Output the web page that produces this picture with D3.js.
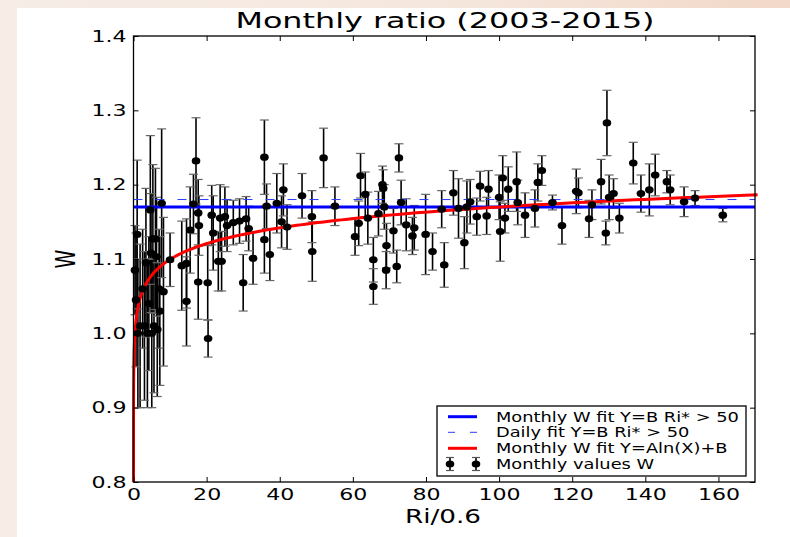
<!DOCTYPE html>
<html>
<head>
<meta charset="UTF-8">
<title>Monthly ratio</title>
<script src="https://d3js.org/d3.v7.min.js"></script>
<style>
  body { margin: 0; background: #fff; }
  svg text { font-family: "DejaVu Sans", sans-serif; fill: #000; }
</style>
</head>
<body>
<svg width="790" height="537">
  <defs>
    <linearGradient id="topband" x1="0" x2="1" y1="0" y2="0">
      <stop offset="0" stop-color="#f6ede7"/>
      <stop offset="0.6" stop-color="#f5e6dc"/>
      <stop offset="1" stop-color="#f2d8c8"/>
    </linearGradient>
  </defs>
</svg>
<script>
  // data
  let riValues = [0.4, 0.7, 1.0, 1.2, 1.8, 2.5, 3.0, 3.4, 3.8, 4.2, 4.6, 4.8, 5.0, 5.3, 5.6, 6.0, 6.3, 6.5, 7.0, 7.2,
    7.7, 8.2, 10.0, 13.2, 14.5, 14.5, 15.5, 16.4, 17.1, 17.7, 17.9, 17.7, 20.3, 20.4, 21.4, 21.8, 23.2, 24.1, 23.7, 25.0,
    25.6, 27.3, 29.0, 30.0, 30.8, 31.5, 32.7, 35.8, 35.8, 36.4, 37.3, 39.2, 40.5, 41.0, 42.0, 46.1, 48.8, 48.9, 52.0, 55.1,
    60.6, 61.6, 62.1, 63.4, 64.1, 65.6, 65.6, 67.0, 68.1, 68.3, 68.6, 69.2, 69.1, 71.1, 72.0, 72.6, 73.2, 74.6, 76.3, 76.8,
    79.9, 81.8, 84.3, 85.0, 87.5, 88.9, 90.5, 91.2, 92.1, 93.9, 94.8, 96.6, 97.1, 100.0, 100.3, 101.0, 101.6, 102.5, 104.8, 105.1,
    107.1, 109.8, 110.6, 111.7, 114.6, 117.2, 121.1, 121.7, 124.6, 125.4, 127.9, 129.2, 129.5, 130.1, 131.3, 132.9, 136.7, 138.8, 141.1, 142.7,
    145.9, 146.8, 150.6, 153.6, 161.2];
  let wValues = [1.085, 1.045, 1.133, 1.0, 1.01, 1.06, 1.01, 1.095, 1.0, 1.04, 1.166, 1.108, 1.0, 1.127, 1.01, 1.127, 1.103, 1.005, 1.06, 1.03,
    1.175, 1.056, 1.099, 1.091, 1.094, 1.043, 1.139, 1.174, 1.232, 1.162, 1.145, 1.069, 1.068, 0.993, 1.159, 1.135, 1.097, 1.097, 1.155, 1.157,
    1.145, 1.149, 1.151, 1.068, 1.154, 1.141, 1.101, 1.237, 1.126, 1.171, 1.106, 1.175, 1.15, 1.193, 1.143, 1.185, 1.157, 1.11, 1.236, 1.171,
    1.13, 1.148, 1.212, 1.187, 1.155, 1.099, 1.063, 1.161, 1.2, 1.195, 1.17, 1.118, 1.085, 1.138, 1.09, 1.236, 1.176, 1.146, 1.131, 1.142,
    1.133, 1.11, 1.167, 1.092, 1.189, 1.168, 1.122, 1.17, 1.177, 1.157, 1.198, 1.158, 1.194, 1.183, 1.137, 1.209, 1.155, 1.194, 1.204, 1.176,
    1.159, 1.168, 1.203, 1.219, 1.176, 1.145, 1.191, 1.189, 1.154, 1.173, 1.204, 1.135, 1.283, 1.183, 1.188, 1.155, 1.229, 1.188, 1.193, 1.213,
    1.204, 1.193, 1.177, 1.182, 1.159];
  let wErrors = [0.06, 0.09, 0.1, 0.1, 0.11, 0.08, 0.1, 0.1, 0.1, 0.09, 0.1, 0.08, 0.1, 0.1, 0.09, 0.095, 0.08, 0.09, 0.08, 0.1,
    0.1, 0.1, 0.036, 0.06, 0.06, 0.06, 0.058, 0.04, 0.058, 0.045, 0.04, 0.05, 0.05, 0.025, 0.04, 0.05, 0.04, 0.04, 0.045, 0.04,
    0.035, 0.03, 0.03, 0.038, 0.03, 0.03, 0.035, 0.05, 0.045, 0.03, 0.035, 0.04, 0.035, 0.035, 0.03, 0.03, 0.035, 0.04, 0.04, 0.026,
    0.025, 0.03, 0.03, 0.03, 0.035, 0.03, 0.024, 0.03, 0.025, 0.025, 0.03, 0.03, 0.025, 0.03, 0.022, 0.019, 0.03, 0.035, 0.025, 0.03,
    0.054, 0.025, 0.025, 0.03, 0.03, 0.04, 0.035, 0.035, 0.03, 0.025, 0.02, 0.025, 0.025, 0.03, 0.04, 0.03, 0.02, 0.03, 0.04, 0.03,
    0.03, 0.025, 0.025, 0.02, 0.01, 0.025, 0.03, 0.02, 0.025, 0.02, 0.03, 0.016, 0.044, 0.03, 0.02, 0.02, 0.028, 0.025, 0.035, 0.028,
    0.015, 0.02, 0.02, 0.01, 0.009];

  let monthlyFitB = 1.17;   // Y=B, Ri* > 50
  let dailyFitB = 1.18;
  let logFitA = 0.0306;     // Y = A ln(X) + B
  let logFitB = 1.029;

  let xTicks = [0, 20, 40, 60, 80, 100, 120, 140, 160];
  let yTicks = [0.8, 0.9, 1.0, 1.1, 1.2, 1.3, 1.4];
  let legendLabels = ["Monthly W fit Y=B Ri* > 50", "Daily fit Y=B Ri* > 50",
    "Monthly W fit Y=Aln(X)+B", "Monthly values W"];

  let svg = d3.select("svg");
  let axLeft = 133.5, axRight = 755, axTop = 36, axBottom = 482;
  let sx = 1.38; // text looks stretched sideways

  // pinkish edges of the screenshot
  svg.append("rect").attr("x", 0).attr("y", 0).attr("width", 790).attr("height", 8).attr("fill", "url(#topband)");
  svg.append("rect").attr("x", 0).attr("y", 0).attr("width", 17).attr("height", 537).attr("fill", "#f8ede6");

  let x = d3.scaleLinear().domain([0, 170]).range([axLeft, axRight]);
  let y = d3.scaleLinear().domain([0.8, 1.4]).range([axBottom, axTop]);

  let data = riValues.map((r, i) => ({ r: r, w: wValues[i], e: wErrors[i] }));

  let plot = svg.append("g");

  // error bars
  plot.selectAll(".bar").data(data).enter().append("line")
    .attr("x1", d => x(d.r)).attr("x2", d => x(d.r))
    .attr("y1", d => y(Math.max(0.8, d.w - d.e))).attr("y2", d => y(d.w + d.e))
    .attr("stroke", "#000").attr("stroke-width", 1.6);
  [-1, 1].forEach(s => {
    plot.selectAll(".cap" + s).data(data.filter(d => d.w + s * d.e > 0.8)).enter().append("line")
      .attr("x1", d => x(d.r) - 4.5).attr("x2", d => x(d.r) + 4.5)
      .attr("y1", d => y(d.w + s * d.e)).attr("y2", d => y(d.w + s * d.e))
      .attr("stroke", "#666").attr("stroke-width", 1.2);
  });

  // fit lines
  plot.append("line").attr("x1", x(0)).attr("x2", x(170))
    .attr("y1", y(dailyFitB)).attr("y2", y(dailyFitB))
    .attr("stroke", "#2a3cff").attr("stroke-width", 1).attr("stroke-dasharray", "9,13");
  plot.append("line").attr("x1", x(0)).attr("x2", x(170))
    .attr("y1", y(monthlyFitB)).attr("y2", y(monthlyFitB))
    .attr("stroke", "#0000ff").attr("stroke-width", 3);

  let fitX = d3.range(-7.5, Math.log(170) + 0.01, 0.02).map(v => Math.exp(v)).concat([170]);
  let redLine = d3.line().x(d => x(d)).y(d => y(logFitA * Math.log(d) + logFitB));
  plot.append("path").datum(fitX.filter(v => logFitA * Math.log(v) + logFitB >= 0.8))
    .attr("d", redLine).attr("fill", "none").attr("stroke", "#ff0000").attr("stroke-width", 3);

  // markers
  plot.selectAll(".pt").data(data).enter().append("ellipse")
    .attr("cx", d => x(d.r)).attr("cy", d => y(d.w))
    .attr("rx", 4.3).attr("ry", 3.6).attr("fill", "#000");

  // axes, matplotlib style: ticks inside on all four sides
  let fmt = d3.format(".1f");
  let gL = svg.append("g").attr("transform", `translate(${axLeft},0)`)
    .call(d3.axisLeft(y).tickValues(yTicks).tickFormat(fmt).tickSizeInner(-5).tickSizeOuter(0).tickPadding(5));
  let gB = svg.append("g").attr("transform", `translate(0,${axBottom})`)
    .call(d3.axisBottom(x).tickValues(xTicks).tickFormat(d3.format("d")).tickSizeInner(-5).tickSizeOuter(0).tickPadding(7));
  let gR = svg.append("g").attr("transform", `translate(${axRight},0)`)
    .call(d3.axisRight(y).tickValues(yTicks).tickFormat("").tickSizeInner(-5).tickSizeOuter(0));
  let gT = svg.append("g").attr("transform", `translate(0,${axTop})`)
    .call(d3.axisTop(x).tickValues(xTicks).tickFormat("").tickSizeInner(-5).tickSizeOuter(0));
  [gL, gB, gR, gT].forEach(g => {
    g.select(".domain").remove();
    g.selectAll("line").attr("stroke", "#000");
    g.selectAll("text").attr("font-size", 16).attr("font-family", "DejaVu Sans").attr("transform", `scale(${sx},1)`);
  });

  svg.append("rect").attr("x", axLeft).attr("y", axTop)
    .attr("width", axRight - axLeft).attr("height", axBottom - axTop)
    .attr("fill", "none").attr("stroke", "#000").attr("stroke-width", 1.3);

  // titles
  svg.append("text").attr("text-anchor", "middle").attr("font-size", 21.5)
    .attr("transform", `translate(445,28) scale(1.48,1)`).text("Monthly ratio (2003-2015)");
  svg.append("text").attr("text-anchor", "middle").attr("font-size", 19)
    .attr("transform", `translate(443,523) scale(${sx},1)`).text("Ri/0.6");
  svg.append("text").attr("text-anchor", "middle").attr("font-size", 19)
    .attr("transform", `translate(75,259) rotate(-90) scale(1,${sx})`).text("W");

  // legend
  let lg = svg.append("g");
  lg.append("rect").attr("x", 437).attr("y", 406).attr("width", 309).attr("height", 70)
    .attr("fill", "#fff").attr("stroke", "#000").attr("stroke-width", 1.3);
  let rowY = [416.7, 432.3, 448.3, 464];
  let styles = [
    { stroke: "#0000ff", w: 3, dash: null },
    { stroke: "#2a3cff", w: 1, dash: "7,15" },
    { stroke: "#ff0000", w: 3, dash: null }
  ];
  styles.forEach((s, i) => {
    lg.append("line").attr("x1", 448).attr("x2", 477).attr("y1", rowY[i]).attr("y2", rowY[i])
      .attr("stroke", s.stroke).attr("stroke-width", s.w).attr("stroke-dasharray", s.dash);
  });
  [450, 476].forEach(px => {
    lg.append("line").attr("x1", px).attr("x2", px).attr("y1", rowY[3] - 6.5).attr("y2", rowY[3] + 6.5)
      .attr("stroke", "#000").attr("stroke-width", 1.6);
    [-6.5, 6.5].forEach(o => lg.append("line").attr("x1", px - 4).attr("x2", px + 4)
      .attr("y1", rowY[3] + o).attr("y2", rowY[3] + o).attr("stroke", "#555").attr("stroke-width", 1.2));
    lg.append("ellipse").attr("cx", px).attr("cy", rowY[3]).attr("rx", 4.3).attr("ry", 3.6).attr("fill", "#000");
  });
  legendLabels.forEach((t, i) => {
    lg.append("text").attr("font-size", 13.5)
      .attr("transform", `translate(496,${rowY[i] + 5}) scale(1.32,1)`).text(t);
  });
</script>
</body>
</html>
